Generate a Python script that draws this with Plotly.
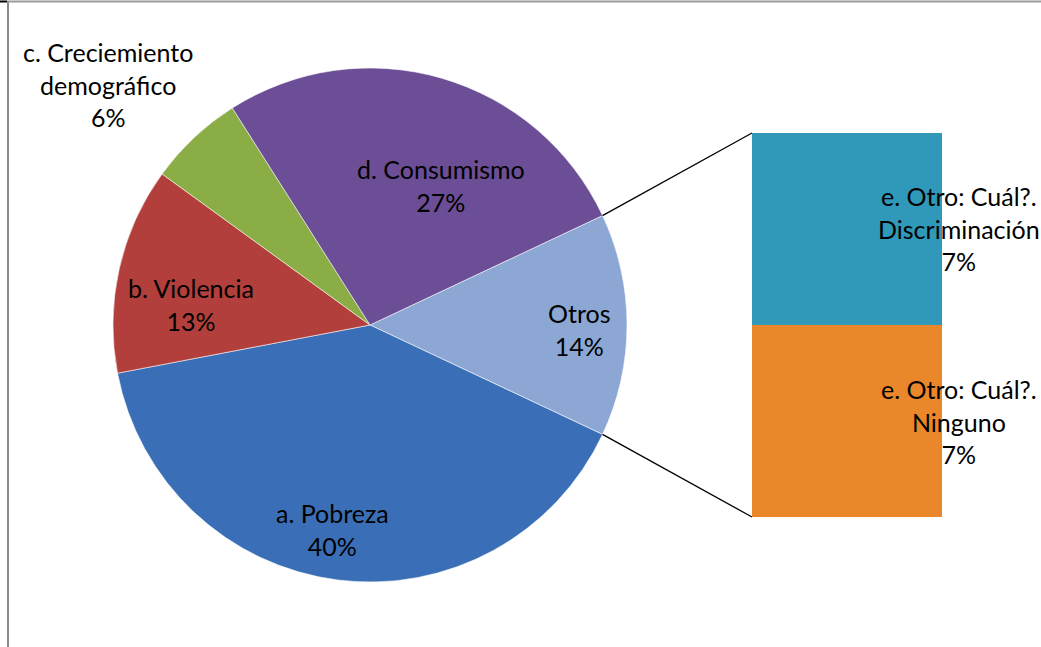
import math
import plotly.graph_objects as go

# ---------------- data ----------------
pie_labels = ["Otros", "a. Pobreza", "b. Violencia", "c. Creciemiento<br>demográfico", "d. Consumismo"]
pie_values = [14, 40, 13, 6, 27]
bar_labels = ["e. Otro: Cuál?.<br>Ninguno", "e. Otro: Cuál?.<br>Discriminación"]
bar_values = [7, 7]

# ---------------- styles / layout ----------------
W, H = 1041, 647
FONT = "Lato, Carlito, Calibri, sans-serif"
FS = 25
pie_colors = ["#8CA7D3", "#3A6FB7", "#B23F3B", "#8AAE45", "#6B4E95"]
bar_colors = ["#EB872B", "#3099BA"]

# pie box in pixels
PX0, PX1, PY0, PY1 = 113, 627, 68, 582
cx, cy = (PX0 + PX1) / 2, (PY0 + PY1) / 2
R = (PX1 - PX0) / 2
# bar box in pixels
BX0, BX1, BY0, BY1 = 752, 942, 133, 517

def px(x):
    return x / W

def py(y):
    return 1 - y / H

total = sum(pie_values)
rotation = 90 - pie_values[0] / total * 180  # centre "Otros" on the right

fig = go.Figure()
fig.add_trace(go.Pie(
    labels=pie_labels, values=pie_values, sort=False, direction="clockwise",
    rotation=rotation, textinfo="none", hoverinfo="label+percent",
    marker=dict(colors=pie_colors, line=dict(color="rgba(255,255,255,0.55)", width=1)),
    domain=dict(x=[px(PX0), px(PX1)], y=[py(PY1), py(PY0)]),
    showlegend=False,
))

for lab, val, col in zip(bar_labels, bar_values, bar_colors):
    fig.add_trace(go.Bar(
        x=["e"], y=[val], name=lab, marker=dict(color=col, line=dict(width=0)),
        xaxis="x", yaxis="y", showlegend=False, hoverinfo="y",
    ))

font = dict(family=FONT, size=FS, color="#000")
annotations = []
# pie labels placed along slice mid-angles (radius fraction, angular nudge in degrees)
label_place = [(0.817, 1.1), (0.81, 3.3), (0.70, -6.2), None, (0.61, 10.7)]
cum = 0
for lab, val, place in zip(pie_labels, pie_values, label_place):
    a0 = rotation + cum / total * 360
    cum += val
    a1 = rotation + cum / total * 360
    text = f"{lab}<br>{val}%"
    if place is None:
        lx, ly = 108, 84
    else:
        rf, da = place
        mid = math.radians((a0 + a1) / 2 + da)
        lx = cx + rf * R * math.sin(mid)
        ly = cy - rf * R * math.cos(mid)
    annotations.append(dict(x=px(lx), y=py(ly), xref="paper", yref="paper",
                            xanchor="center", yanchor="middle",
                            text=text, showarrow=False, font=font))

# bar labels at stack mid values
cumb = 0
for lab, val in zip(bar_labels, bar_values):
    mid = cumb + val / 2
    cumb += val
    annotations.append(dict(x=px(959), y=mid, xref="paper", yref="y",
                            xanchor="center", yanchor="middle",
                            text=f"{lab}<br>{val}%", showarrow=False, font=font))

shapes = []
# connector lines from "Otros" edges to the bar corners
a_top = math.radians(rotation)
a_bot = math.radians(rotation + pie_values[0] / total * 360)
for ang, by in [(a_top, BY0), (a_bot, BY1)]:
    sx = cx + R * math.sin(ang)
    sy = cy - R * math.cos(ang)
    shapes.append(dict(type="line", xref="paper", yref="paper",
                       x0=px(sx), y0=py(sy), x1=px(BX0), y1=py(by),
                       line=dict(color="#000", width=1.3)))
# frame
shapes.append(dict(type="line", xref="paper", yref="paper", x0=px(8), x1=px(8),
                   y0=0, y1=py(1), line=dict(color="#8a8a8a", width=2)))
shapes.append(dict(type="line", xref="paper", yref="paper", x0=px(7), x1=1,
                   y0=py(1.5), y1=py(1.5), line=dict(color="#9a9a9a", width=2)))
shapes.append(dict(type="line", xref="paper", yref="paper", x0=0, x1=px(7),
                   y0=py(1.5), y1=py(1.5), line=dict(color="#000", width=2)))

fig.update_layout(
    width=W, height=H, margin=dict(l=0, r=0, t=0, b=0),
    paper_bgcolor="white", plot_bgcolor="white",
    barmode="stack", bargap=0,
    xaxis=dict(domain=[px(BX0), px(BX1)], range=[-0.5, 0.5], visible=False, fixedrange=True),
    yaxis=dict(domain=[py(BY1), py(BY0)], range=[0, sum(bar_values)], visible=False, fixedrange=True),
    annotations=annotations, shapes=shapes,
    font=font,
)

fig.write_html("out.html", config={"displayModeBar": False},
               post_script="document.body.style.margin='0';document.body.style.overflow='hidden';")
